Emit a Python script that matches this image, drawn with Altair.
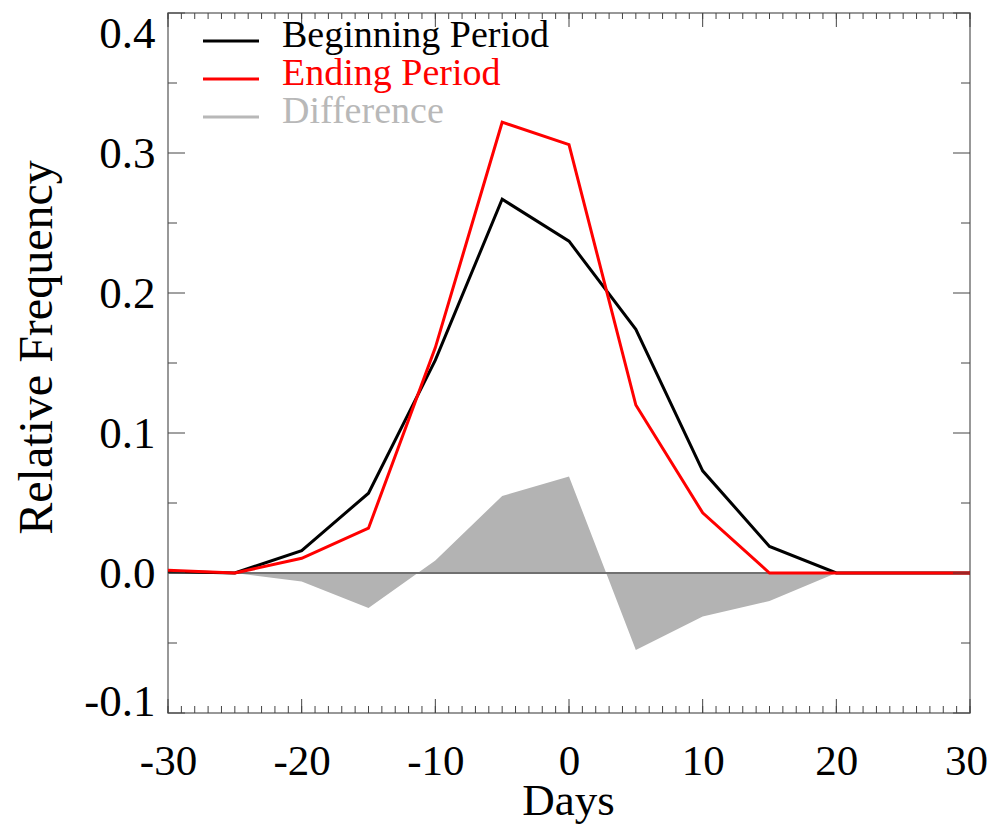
import altair as alt
import pandas as pd

# ---- data ----
days = [-30, -25, -20, -15, -10, -5, 0, 5, 10, 15, 20, 25, 30]
beginning = [0.001, 0.0, 0.016, 0.057, 0.152, 0.267, 0.237, 0.174, 0.073, 0.019, 0.0, 0.0, 0.0]
ending = [0.002, 0.0, 0.0105, 0.032, 0.161, 0.322, 0.306, 0.120, 0.043, 0.0, 0.0, 0.0, 0.0]
difference = [0.001, 0.0, -0.006, -0.025, 0.009, 0.055, 0.069, -0.055, -0.031, -0.020, 0.0, 0.0, 0.0]

legend_labels = ["Beginning Period", "Ending Period", "Difference"]

x_major = [-30, -20, -10, 0, 10, 20, 30]
x_minor = list(range(-30, 31))
y_major = [-0.1, 0.0, 0.1, 0.2, 0.3, 0.4]
y_minor = [-0.05, 0.05, 0.15, 0.25, 0.35]
zero_line = [0.0]

FONT = "Liberation Serif"
W, H = 802, 700
MINUS_FIX = "replace(datum.label, '\u2212', '-')"

df = pd.DataFrame({"day": days, "beg": beginning, "end": ending, "diff": difference})

x_enc = lambda field: alt.X(
    f"{field}:Q",
    scale=alt.Scale(domain=[-30, 30], nice=False, zero=False),
    axis=alt.Axis(
        values=x_major, ticks=False, tickSize=0, domain=False, grid=False,
        labelExpr=MINUS_FIX,
        labelFont=FONT, labelFontSize=43, labelColor="black",
        labelBaseline="alphabetic", labelPadding=61, labelFlush=False,
        labelOffset={"condition": {"test": "datum.value >= 30", "value": -4}, "value": 0},
        title="Days", titleFont=FONT, titleFontSize=45, titleFontWeight="normal",
        titleColor="black", titleX=400, titleY=101, titleBaseline="alphabetic",
        titleAlign="center",
    ),
)

y_enc = lambda field: alt.Y(
    f"{field}:Q",
    scale=alt.Scale(domain=[-0.1, 0.4], nice=False, zero=False),
    axis=alt.Axis(
        values=y_major, format=".1f", labelExpr=MINUS_FIX,
        ticks=False, tickSize=0, domain=False, grid=False,
        labelFont=FONT, labelFontSize=45, labelColor="black", labelPadding=13,
        labelFlush=True, labelFlushOffset=11,
        labelOffset={"condition": {"test": "datum.value >= 0.39", "value": 9}, "value": 0},
        title="Relative Frequency", titleFont=FONT, titleFontSize=48,
        titleFontWeight="normal", titleColor="black", titleX=-117, titleY=334,
        titleAngle=270, titleAlign="center", titleBaseline="alphabetic",
    ),
)

base = alt.Chart(df)

area = base.mark_area(color="#b3b3b3", opacity=1, interpolate="linear").encode(
    x=x_enc("day"), y=y_enc("diff")
)
zero = alt.Chart(pd.DataFrame({"v": zero_line})).mark_rule(
    color="#707070", strokeWidth=2
).encode(y=y_enc("v"))
line_beg = base.mark_line(color="black", strokeWidth=3).encode(x=x_enc("day"), y=y_enc("beg"))
line_end = base.mark_line(color="#ff0000", strokeWidth=3).encode(x=x_enc("day"), y=y_enc("end"))

tick_color = "#444444"
xmaj = alt.Chart(pd.DataFrame({"day": x_major}))
xmin = alt.Chart(pd.DataFrame({"day": x_minor}))
ymaj = alt.Chart(pd.DataFrame({"v": y_major}))
ymin = alt.Chart(pd.DataFrame({"v": y_minor}))

ticks = [
    xmin.mark_rule(color=tick_color, strokeWidth=1).encode(x=x_enc("day"), y=alt.value(H), y2=alt.value(H - 7)),
    xmin.mark_rule(color=tick_color, strokeWidth=1).encode(x=x_enc("day"), y=alt.value(0), y2=alt.value(6)),
    xmaj.mark_rule(color=tick_color, strokeWidth=1).encode(x=x_enc("day"), y=alt.value(H), y2=alt.value(H - 14)),
    xmaj.mark_rule(color=tick_color, strokeWidth=1).encode(x=x_enc("day"), y=alt.value(0), y2=alt.value(14)),
    ymaj.mark_rule(color=tick_color, strokeWidth=1).encode(y=y_enc("v"), x=alt.value(0), x2=alt.value(17)),
    ymaj.mark_rule(color=tick_color, strokeWidth=1).encode(y=y_enc("v"), x=alt.value(W), x2=alt.value(W - 17)),
    ymin.mark_rule(color=tick_color, strokeWidth=1).encode(y=y_enc("v"), x=alt.value(0), x2=alt.value(9)),
    ymin.mark_rule(color=tick_color, strokeWidth=1).encode(y=y_enc("v"), x=alt.value(W), x2=alt.value(W - 9)),
]

main = alt.layer(area, zero, line_beg, line_end, *ticks)

leg_df = pd.DataFrame({"label": legend_labels})
leg_y = alt.Y(
    "label:N",
    scale=alt.Scale(type="point", domain=legend_labels, range=[28, 104], padding=0),
    axis=None,
)
leg_color = alt.Color(
    "label:N",
    scale=alt.Scale(domain=legend_labels, range=["black", "#ff0000", "#b8b8b8"]),
    legend=None,
)
leg_lines = alt.Chart(leg_df).mark_rule(strokeWidth=3).encode(
    y=leg_y, x=alt.value(35), x2=alt.value(91), color=leg_color
)
leg_text = alt.Chart(leg_df).mark_text(
    align="left", baseline="alphabetic", dy=6, font=FONT, fontSize=38
).encode(y=leg_y, x=alt.value(114), text="label:N", color=leg_color)
legend = alt.layer(leg_lines, leg_text)

chart = (
    alt.layer(main, legend)
    .resolve_scale(y="independent")
    .properties(
        width=W,
        height=H,
        autosize=alt.AutoSizeParams(type="none"),
        padding={"left": 160, "top": 5, "right": 18, "bottom": 111},
        background="white",
    )
    .configure_view(stroke="#777777", strokeWidth=1.5)
)

chart.save("out.html", embed_options={"renderer": "svg", "actions": False})
